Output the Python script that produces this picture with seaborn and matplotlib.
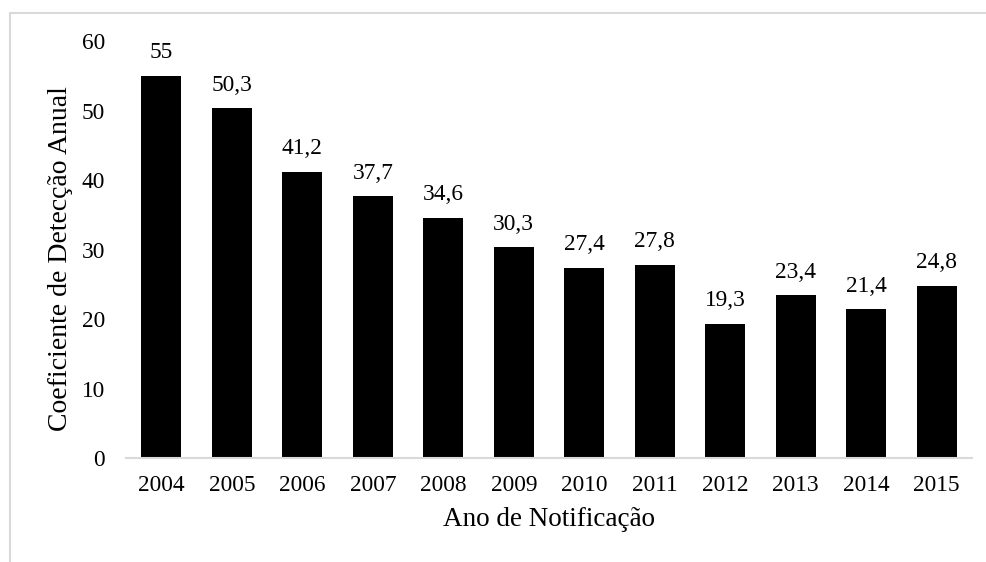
import matplotlib
matplotlib.use("Agg")
import matplotlib.pyplot as plt
from matplotlib.lines import Line2D
import seaborn as sns
import pandas as pd

years = ["2004", "2005", "2006", "2007", "2008", "2009",
         "2010", "2011", "2012", "2013", "2014", "2015"]
rates = [55, 50.3, 41.2, 37.7, 34.6, 30.3, 27.4, 27.8, 19.3, 23.4, 21.4, 24.8]
rate_labels = ["55", "50,3", "41,2", "37,7", "34,6", "30,3",
               "27,4", "27,8", "19,3", "23,4", "21,4", "24,8"]
y_ticks = [0, 10, 20, 30, 40, 50, 60]

sns.set_theme(style="white")
plt.rcParams["font.family"] = ["Liberation Serif", "DejaVu Serif"]

df = pd.DataFrame({"ano": years, "coef": rates})

fig = plt.figure(figsize=(9.86, 5.62), dpi=100)
ax = fig.add_axes([0.1278, 0.185, 0.858, 0.742])

sns.barplot(data=df, x="ano", y="coef", color="black", width=0.57,
            saturation=1, ax=ax, edgecolor="black", linewidth=0)

for i, (v, lab) in enumerate(zip(rates, rate_labels)):
    ax.annotate(lab, xy=(i, v), xytext=(0, 9), textcoords="offset points",
                ha="center", va="bottom", fontsize=16.8, color="black")

ax.set_ylim(0, 60)
ax.set_xlim(-0.5, len(years) - 0.5)
ax.set_yticks(y_ticks)
ax.set_yticklabels([str(t) for t in y_ticks])
ax.tick_params(axis="both", length=0, labelsize=16.8, colors="black")
ax.tick_params(axis="y", pad=15)
ax.tick_params(axis="x", pad=12)

for side in ["top", "right", "left"]:
    ax.spines[side].set_visible(False)
ax.spines["bottom"].set_color("#d9d9d9")
ax.spines["bottom"].set_linewidth(1.5)

ax.set_xlabel("Ano de Notificação", fontsize=19.5, color="black")
ax.set_ylabel("Coeficiente de Detecção Anual", fontsize=20, color="black")
ax.xaxis.set_label_coords(0.5, -0.1175)
ax.yaxis.set_label_coords(-0.0626, 0.478)

# light outer frame
fw, fh = 986, 562
fig.add_artist(Line2D([10 / fw, 10 / fw], [0, 1 - 13 / fh],
                      color="#d9d9d9", linewidth=1.5, transform=fig.transFigure))
fig.add_artist(Line2D([10 / fw, 1], [1 - 13 / fh, 1 - 13 / fh],
                      color="#d9d9d9", linewidth=1.5, transform=fig.transFigure))

fig.savefig("out.png", dpi=100)
